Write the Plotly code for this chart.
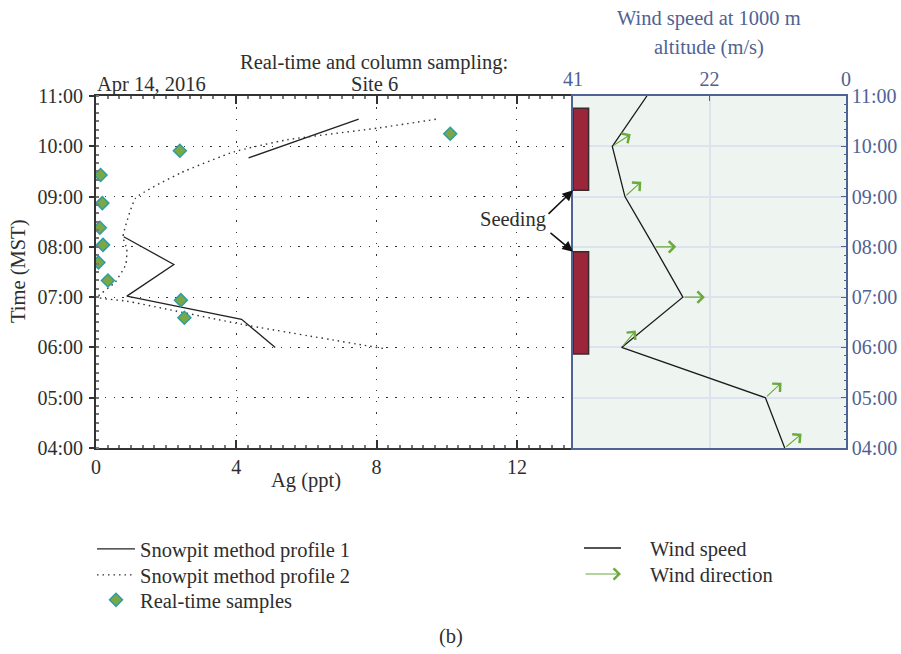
import math
import plotly.graph_objects as go

W, H = 901, 654

# ---------------- data ----------------
hour_ticks = [4, 5, 6, 7, 8, 9, 10, 11]
hour_labels = ["04:00", "05:00", "06:00", "07:00", "08:00", "09:00", "10:00", "11:00"]
ag_ticks = [0, 4, 8, 12]
ag_labels = ["0", "4", "8", "12"]
ws_tickvals = [41, 20.5, 0]
ws_ticklabels = ["41", "22", "0"]

# Snowpit method profile 1 (Ag ppt vs time in hours); None = gap
p1_ag = [0.79, 2.22, 0.88, 4.15, 5.11, None, 4.35, 7.49]
p1_time = [8.20, 7.65, 7.02, 6.56, 6.00, None, 9.77, 10.54]

# Snowpit method profile 2
p2_ag = [8.18, 4.15, 0.88, 0.05, 0.55, 0.85, 0.88, 0.77, 1.13, 2.41, 3.93, 5.45, 8.01, 9.72]
p2_time = [5.98, 6.46, 6.92, 7.00, 7.30, 7.65, 7.95, 8.20, 8.97, 9.47, 9.89, 10.13, 10.36, 10.54]

# Real-time samples
rt_ag = [10.1, 2.39, 0.13, 0.18, 0.11, 0.20, 0.07, 0.34, 2.42, 2.52]
rt_time = [10.25, 9.91, 9.43, 8.87, 8.38, 8.04, 7.69, 7.33, 6.94, 6.59]

# Wind at 1000 m
wind_time = [4, 5, 6, 7, 8, 9, 10, 11]
wind_speed = [9.2, 12.1, 33.7, 24.5, 28.8, 33.2, 35.1, 29.9]
wind_dir_deg = [40, 43, 50, 0, 0, 42, 33, None]   # arrow angle, CCW from east

# Seeding periods (hours)
seed_start = [5.87, 9.125]
seed_end = [7.905, 10.755]

# ---------------- layout geometry ----------------
FONT = "Liberation Serif"
TXT = "#2E2E2E"
BLUE = "#4F6294"
GREEN = "#6BAA3C"
FS = 20.5
TFS = 20
x1_dom = [96 / W, 573 / W]
x2_dom = [573 / W, 846 / W]
y_dom = [1 - 448 / H, 1 - 96 / H]

ws_range = [41, 0]
t_range = [4, 11]
x2_px = (x2_dom[1] - x2_dom[0]) * W
y_px = (y_dom[1] - y_dom[0]) * H
ws_per_px = (ws_range[0] - ws_range[1]) / x2_px
hr_per_px = (t_range[1] - t_range[0]) / y_px

fig = go.Figure()

fig.add_trace(go.Scatter(
    x=p1_ag, y=p1_time, mode="lines", name="Snowpit method profile 1",
    line=dict(color="#222222", width=1.3), connectgaps=False,
    xaxis="x", yaxis="y", legend="legend"))
fig.add_trace(go.Scatter(
    x=p2_ag, y=p2_time, mode="lines", name="Snowpit method profile 2",
    line=dict(color="#333333", width=1.4, dash="1.5px,4px", shape="spline", smoothing=0.4),
    xaxis="x", yaxis="y", legend="legend2"))
fig.add_trace(go.Scatter(
    x=rt_ag, y=rt_time, mode="markers", name="Real-time samples",
    marker=dict(symbol="diamond", size=10, color="#79A845",
                line=dict(color="#2E9DA6", width=1.5)),
    xaxis="x", yaxis="y", legend="legend3"))
fig.add_trace(go.Scatter(
    x=wind_speed, y=wind_time, mode="lines", name="Wind speed",
    line=dict(color="#1a1a1a", width=1.3), showlegend=False,
    xaxis="x2", yaxis="y2"))

shapes = []
# right panel background
shapes.append(dict(type="rect", xref="x2 domain", yref="y2 domain", x0=0, x1=1, y0=0, y1=1,
                   fillcolor="#EEF4EF", line=dict(width=0), layer="below"))
# seeding bars
bar_w_px = 15.6
for s0, s1 in zip(seed_start, seed_end):
    shapes.append(dict(type="rect", xref="x2", yref="y2",
                       x0=ws_range[0], x1=ws_range[0] - bar_w_px * ws_per_px,
                       y0=s0, y1=s1, fillcolor="#9B2539",
                       line=dict(color="#3A2A2E", width=1.5), layer="above"))

annotations = []
# wind direction arrows
L = 22
for t, s, a in zip(wind_time, wind_speed, wind_dir_deg):
    if a is None:
        continue
    dx = L * math.cos(math.radians(a))
    dy = L * math.sin(math.radians(a))
    annotations.append(dict(
        x=s - dx * ws_per_px, y=t + dy * hr_per_px, xref="x2", yref="y2",
        ax=s, ay=t, axref="x2", ayref="y2", text="", showarrow=True,
        arrowhead=4, arrowsize=2, arrowwidth=1.1, arrowcolor=GREEN))

# Seeding annotation
annotations.append(dict(x=513 / W, y=1 - 219 / H, xref="paper", yref="paper",
                        text="Seeding", showarrow=False, font=dict(size=FS, color=TXT, family=FONT)))
annotations.append(dict(x=ws_range[0], y=seed_end[0], xref="x2", yref="y2", ax=-24, ay=-20,
                        text="", showarrow=True, arrowhead=2, arrowsize=1.4, arrowwidth=1.5,
                        arrowcolor="#111111"))
annotations.append(dict(x=ws_range[0], y=seed_start[1], xref="x2", yref="y2", ax=-26, ay=25,
                        text="", showarrow=True, arrowhead=2, arrowsize=1.4, arrowwidth=1.5,
                        arrowcolor="#111111"))


def txt(x, y, s, color=TXT, xanchor="center", size=FS, angle=0):
    annotations.append(dict(x=x / W, y=1 - y / H, xref="paper", yref="paper", text=s,
                            showarrow=False, xanchor=xanchor, yanchor="middle", textangle=angle,
                            font=dict(size=size, color=color, family=FONT)))


txt(374, 62, "Real-time and column sampling:")
txt(374, 84, "Site 6")
txt(95, 84, "Apr 14, 2016", xanchor="left")
txt(709, 18, "Wind speed at 1000 m", color=BLUE)
txt(709, 47, "altitude (m/s)", color=BLUE)
txt(306, 480, "Ag (ppt)")
txt(18, 272, "Time (MST)", angle=-90)
txt(451, 636, "(b)")

# manual legend for right column
shapes.append(dict(type="line", xref="paper", yref="paper", x0=584 / W, x1=621 / W,
                   y0=1 - 548 / H, y1=1 - 548 / H, line=dict(color="#1a1a1a", width=1.3)))
txt(648, 549, "Wind speed", xanchor="left")
annotations.append(dict(x=621 / W, y=1 - 574 / H, xref="paper", yref="paper", ax=-37, ay=0,
                        text="", showarrow=True, arrowhead=4, arrowsize=2, arrowwidth=1.1,
                        arrowcolor=GREEN))
txt(648, 575, "Wind direction", xanchor="left")

tickfont = dict(family=FONT, size=TFS, color=TXT)
bluefont = dict(family=FONT, size=TFS, color=BLUE)


def leg(ytop):
    return dict(x=92 / W, y=1 - ytop / H, xanchor="left", yanchor="top",
                font=dict(family=FONT, size=FS, color=TXT), bgcolor="rgba(0,0,0,0)",
                itemwidth=38, tracegroupgap=0)


fig.update_layout(
    width=W, height=H, margin=dict(l=0, r=0, t=0, b=0),
    paper_bgcolor="white", plot_bgcolor="rgba(0,0,0,0)",
    font=dict(family=FONT, size=FS, color=TXT),
    shapes=shapes, annotations=annotations,
    legend=leg(529), legend2=leg(555), legend3=leg(580),
    xaxis=dict(domain=x1_dom, range=[0, 13.6], anchor="y", tickvals=ag_ticks, ticktext=ag_labels,
               automargin=False,
               showline=True, linecolor="#333333", linewidth=2, mirror="ticks",
               ticks="inside", ticklen=8, tickcolor="#333333", tickwidth=1.5,
               minor=dict(dtick=1 / 3, ticks="inside", ticklen=3, tickcolor="#777777", showgrid=False),
               showgrid=True, gridcolor="#333333", griddash="1.3px,10px", gridwidth=1.2,
               zeroline=False, tickfont=tickfont, ticklabelstandoff=0),
    yaxis=dict(domain=y_dom, range=t_range, anchor="x", tickvals=hour_ticks, ticktext=hour_labels,
               automargin=False,
               showline=True, linecolor="#333333", linewidth=2,
               ticks="outside", ticklen=5, tickcolor="#333333", tickwidth=1.5,
               minor=dict(dtick=1 / 6, ticks="inside", ticklen=3, tickcolor="#777777", showgrid=False),
               showgrid=True, gridcolor="#333333", griddash="1.3px,7.5px", gridwidth=1.2,
               zeroline=False, tickfont=tickfont, ticklabelstandoff=2),
    xaxis2=dict(domain=x2_dom, range=ws_range, anchor="y2", side="top",
                tickvals=ws_tickvals, ticktext=ws_ticklabels, automargin=False,
                showline=True, linecolor=BLUE, linewidth=1.5, mirror=True,
                ticks="inside", ticklen=5, tickcolor=BLUE,
                showgrid=True, gridcolor="#DCE3EE", gridwidth=1.5, zeroline=False,
                tickfont=bluefont, ticklabelstandoff=0),
    yaxis2=dict(domain=y_dom, range=t_range, anchor="x2", side="right",
                tickvals=hour_ticks, ticktext=hour_labels, automargin=False,
                showline=True, linecolor=BLUE, linewidth=1.5, mirror=True,
                ticks="inside", ticklen=5, tickcolor=BLUE,
                minor=dict(dtick=1 / 6, ticks="inside", ticklen=2, tickcolor=BLUE, showgrid=False),
                showgrid=True, gridcolor="#DCE3EE", gridwidth=1.5, zeroline=False,
                tickfont=bluefont, ticklabelstandoff=0),
)

fig.write_html("out.html")
